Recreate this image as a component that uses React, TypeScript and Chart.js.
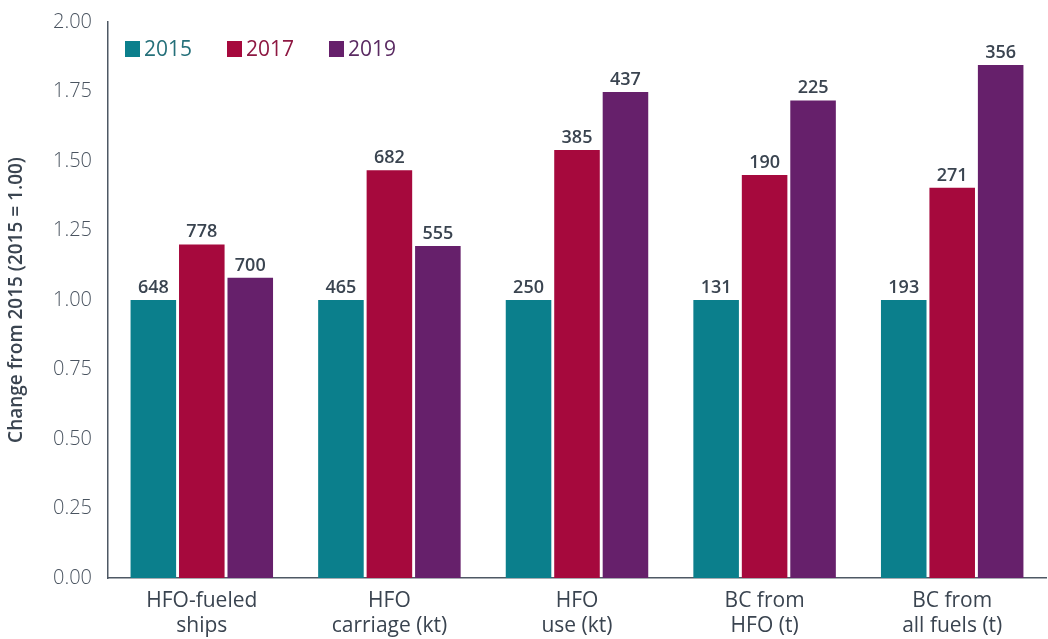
import React, { useEffect, useRef } from "react";
import { Chart, registerables } from "chart.js";

Chart.register(...registerables);

const categories: string[][] = [
  ["HFO-fueled", "ships"],
  ["HFO", "carriage (kt)"],
  ["HFO", "use (kt)"],
  ["BC from", "HFO (t)"],
  ["BC from", "all fuels (t)"],
];
const seriesNames = ["2015", "2017", "2019"];
const values2015 = [1.0, 1.0, 1.0, 1.0, 1.0];
const values2017 = [1.2, 1.467, 1.54, 1.45, 1.404];
const values2019 = [1.08, 1.194, 1.748, 1.718, 1.845];
const labels2015 = ["648", "465", "250", "131", "193"];
const labels2017 = ["778", "682", "385", "190", "271"];
const labels2019 = ["700", "555", "437", "225", "356"];
const colors = ["#0B7F8C", "#A6093D", "#66206B"];
const legendTextColors = ["#25707A", "#8E1842", "#5A2A62"];
const yTicks = [0, 0.25, 0.5, 0.75, 1.0, 1.25, 1.5, 1.75, 2.0];

const FONT = "'Open Sans', 'DejaVu Sans', sans-serif";

const barLabelPlugin = {
  id: "barLabels",
  afterDatasetsDraw(chart: any) {
    const ctx = chart.ctx;
    const all = [labels2015, labels2017, labels2019];
    ctx.save();
    ctx.font = `600 18px ${FONT}`;
    ctx.fillStyle = "#3A4450";
    ctx.textAlign = "center";
    ctx.textBaseline = "alphabetic";
    chart.data.datasets.forEach((ds: any, i: number) => {
      const meta = chart.getDatasetMeta(i);
      meta.data.forEach((bar: any, j: number) => {
        ctx.fillText(all[i][j], bar.x, bar.y - 7);
      });
    });
    ctx.restore();
  },
};

const legendPlugin = {
  id: "insideLegend",
  afterDraw(chart: any) {
    const ctx = chart.ctx;
    const area = chart.chartArea;
    ctx.save();
    ctx.font = `400 21px ${FONT}`;
    ctx.textBaseline = "middle";
    ctx.textAlign = "left";
    const y = area.top + 27;
    const xs = [area.left + 17, area.left + 119, area.left + 221];
    seriesNames.forEach((name, i) => {
      ctx.fillStyle = colors[i];
      ctx.fillRect(xs[i], y - 8, 15, 16);
      ctx.fillStyle = legendTextColors[i];
      ctx.fillText(name, xs[i] + 19, y + 1);
    });
    ctx.restore();
  },
};

export default function App() {
  const ref = useRef<HTMLCanvasElement>(null);
  useEffect(() => {
    document.body.style.margin = "0";
    const chart = new Chart(ref.current!, {
      type: "bar",
      data: {
        labels: categories,
        datasets: [values2015, values2017, values2019].map((d, i) => ({
          label: seriesNames[i],
          data: d,
          backgroundColor: colors[i],
          categoryPercentage: 0.775,
          barPercentage: 0.94,
        })),
      },
      options: {
        animation: false,
        responsive: false,
        maintainAspectRatio: false,
        layout: { padding: { top: 22, right: 2, left: 0, bottom: 0 } },
        plugins: {
          legend: { display: false },
          tooltip: { enabled: false },
        },
        scales: {
          x: {
            grid: { display: false },
            border: { display: true, color: "#4E5864", width: 1.5 },
            afterFit(scale: any) {
              scale.height = 61;
            },
            ticks: {
              color: "#3A4450",
              font: { family: FONT, size: 21, weight: "500" as any, lineHeight: 1.2 },
              padding: 2,
              maxRotation: 0,
              autoSkip: false,
            },
          },
          y: {
            min: 0,
            max: 2,
            afterBuildTicks(scale: any) {
              scale.ticks = yTicks.map((v) => ({ value: v }));
            },
            afterFit(scale: any) {
              scale.width = 108;
            },
            grid: { display: false },
            border: { display: true, color: "#4E5864", width: 1.5 },
            ticks: {
              color: "#4A5460",
              font: { family: FONT, size: 20, weight: "300" as any },
              padding: 8,
              callback: (v: any) => Number(v).toFixed(2),
            },
            title: {
              display: true,
              text: "Change from 2015 (2015 = 1.00)",
              color: "#3A4450",
              font: { family: FONT, size: 19, weight: "600" as any, lineHeight: 1.2 },
              padding: { top: 5, bottom: 0 },
            },
          },
        },
      },
      plugins: [barLabelPlugin, legendPlugin],
    });
    return () => chart.destroy();
  }, []);
  return (
    <div style={{ position: "absolute", left: 0, top: 0, width: 1048, height: 639, background: "#fff" }}>
      <canvas ref={ref} width={1048} height={639} />
    </div>
  );
}
